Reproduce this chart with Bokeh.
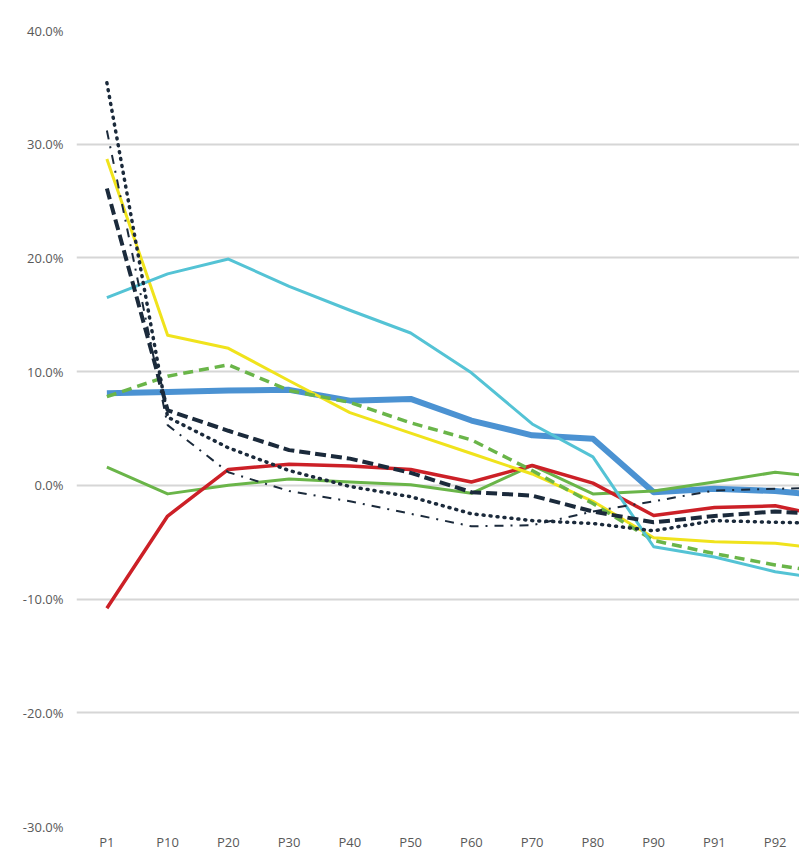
from bokeh.plotting import figure
from bokeh.models import Range1d, FixedTicker, NumeralTickFormatter
from bokeh.embed import file_html
from bokeh.resources import INLINE

# Categories (the last one lies just past the right edge of the visible chart)
categories = ["P1", "P10", "P20", "P30", "P40", "P50", "P60", "P70", "P80", "P90", "P91", "P92", "P93"]
visible_labels = categories[:12]

# Series values (percent)
cyan_vals = [16.5, 18.6, 19.9, 17.5, 15.4, 13.4, 9.9, 5.4, 2.5, -5.4, -6.3, -7.6, -8.4]
blue_vals = [8.1, 8.2, 8.35, 8.4, 7.45, 7.6, 5.7, 4.4, 4.1, -0.6, -0.3, -0.5, -1.0]
yellow_vals = [28.7, 13.2, 12.05, 9.2, 6.4, 4.6, 2.8, 1.0, -1.4, -4.6, -4.95, -5.1, -5.7]
green_dash_vals = [7.8, 9.6, 10.6, 8.35, 7.3, 5.5, 4.0, 1.3, -1.6, -4.85, -6.0, -7.0, -7.8]
green_vals = [1.6, -0.75, 0.0, 0.55, 0.3, 0.05, -0.7, 1.75, -0.75, -0.5, 0.3, 1.15, 0.6]
red_vals = [-10.8, -2.7, 1.4, 1.85, 1.7, 1.4, 0.3, 1.75, 0.2, -2.65, -1.95, -1.8, -2.9]
navy_dash_vals = [26.1, 6.6, 4.8, 3.1, 2.35, 1.1, -0.6, -0.9, -2.3, -3.25, -2.7, -2.3, -2.6]
navy_dot_vals = [35.4, 6.0, 3.3, 1.3, -0.1, -1.0, -2.5, -3.1, -3.35, -4.0, -3.1, -3.25, -3.35]
navy_dashdot_vals = [31.2, 5.3, 1.15, -0.5, -1.4, -2.5, -3.6, -3.5, -2.3, -1.4, -0.45, -0.3, -0.2]

y_ticks = [-30, -20, -10, 0, 10, 20, 30, 40]

xs = list(range(len(categories)))
frac = lambda vals: [v / 100.0 for v in vals]

p = figure(width=799, height=856, output_backend="svg", toolbar_location=None,
           x_range=Range1d(-0.5, 11.4), y_range=Range1d(-0.30, 0.40),
           min_border_left=76, min_border_right=0, min_border_top=30, min_border_bottom=30)
p.outline_line_color = None
p.background_fill_color = "white"
p.border_fill_color = "white"

# axes
p.xaxis.ticker = FixedTicker(ticks=list(range(len(visible_labels))))
p.xaxis.major_label_overrides = {i: lab for i, lab in enumerate(visible_labels)}
p.yaxis.ticker = FixedTicker(ticks=[t / 100.0 for t in y_ticks])
p.yaxis.formatter = NumeralTickFormatter(format="0.0%")
for ax in (p.xaxis[0], p.yaxis[0]):
    ax.axis_line_color = None
    ax.major_tick_line_color = None
    ax.minor_tick_line_color = None
    ax.major_tick_out = 0
    ax.major_tick_in = 0
    ax.minor_tick_out = 0
    ax.major_label_text_font = "Open Sans"
    ax.major_label_text_font_size = "13px"
    ax.major_label_text_color = "#595959"
p.yaxis.major_label_standoff = 13
p.xaxis.major_label_standoff = 6

p.xgrid.grid_line_color = None
p.ygrid.grid_line_color = "#d6d6d6"
p.ygrid.grid_line_width = 2

navy = "#1b2a3b"
green = "#6ab549"

p.line(xs, frac(blue_vals), line_color="#4b92d2", line_width=6, line_join="round")
p.line(xs, frac(green_vals), line_color=green, line_width=3, line_join="round")
p.line(xs, frac(red_vals), line_color="#cc2027", line_width=3.5, line_join="round")
p.line(xs, frac(yellow_vals), line_color="#f0e31c", line_width=3, line_join="round")
p.line(xs, frac(green_dash_vals), line_color=green, line_width=3.5, line_dash="10 6", line_join="round")
p.line(xs, frac(cyan_vals), line_color="#54c3d5", line_width=3, line_join="round")
p.line(xs, frac(navy_dashdot_vals), line_color=navy, line_width=2, line_dash="9 7 2 7")
p.line(xs, frac(navy_dot_vals), line_color=navy, line_width=3.5, line_dash="1 6", line_cap="round")
p.line(xs, frac(navy_dash_vals), line_color=navy, line_width=4, line_dash="11 5")

open("out.html", "w").write(file_html(p, INLINE))
